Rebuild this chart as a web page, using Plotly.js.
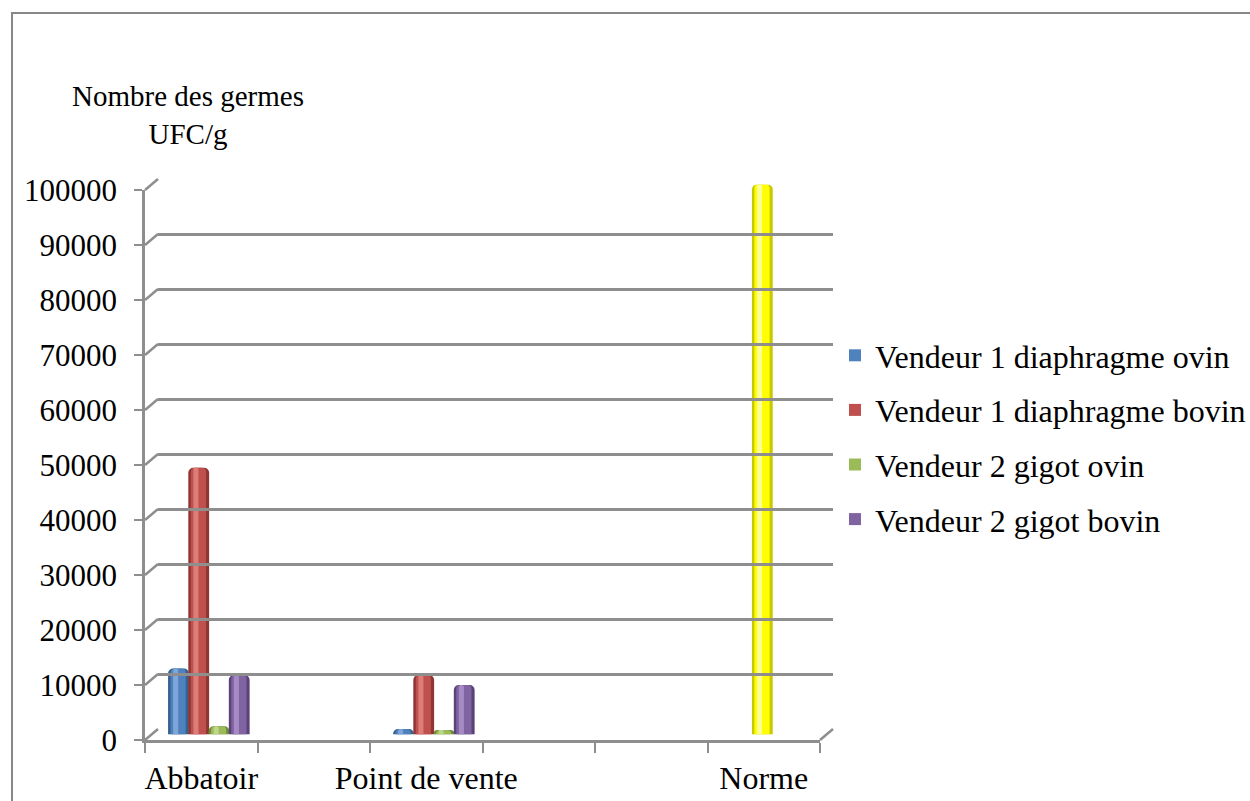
<!DOCTYPE html>
<html>
<head>
<meta charset="utf-8">
<script src="https://cdn.plot.ly/plotly-3.0.1.min.js"></script>
<style>
  html, body { margin: 0; padding: 0; background: #ffffff; }
  #chart { width: 1250px; height: 801px; }
</style>
</head>
<body>
<div id="chart"></div>
<script>
// ---------------- DATA ----------------
const categories = ['Abbatoir', 'Point de vente', 'Norme'];
const axisSlots = ['Abbatoir', ' ', 'Point de vente', '  ', '   ', 'Norme'];
const seriesNames = [
  'Vendeur 1 diaphragme ovin',
  'Vendeur 1 diaphragme bovin',
  'Vendeur 2 gigot ovin',
  'Vendeur 2 gigot bovin'
];
const vendeur1DiaphragmeOvin  = [12000, 1000, null];
const vendeur1DiaphragmeBovin = [48500, 10800, null];
const vendeur2GigotOvin       = [1500, 800, null];
const vendeur2GigotBovin      = [10800, 9000, null];
const normeValues             = [null, null, 100000];
const yTickValues = [0, 10000, 20000, 30000, 40000, 50000, 60000, 70000, 80000, 90000, 100000];

// ---------------- STYLE ----------------
const FONT = '"Liberation Serif", "Times New Roman", serif';
const GRID = '#8e8e8e';
const palettes = [
  { edge: '#35608f', main: '#4f81bd', light: '#7ea6d8' },
  { edge: '#8d3634', main: '#c0504d', light: '#dc7d7a' },
  { edge: '#6f8a3a', main: '#9bbb59', light: '#bdd68a' },
  { edge: '#5a4379', main: '#8064a2', light: '#a58ac4' }
];
const normePalette = { edge: '#c9c900', main: '#ffff00', light: '#ffff99' };
const seriesOffsets = [-0.295, -0.115, 0.065, 0.245];
const normeOffset = -0.105;
const BW = 0.185;

const seriesValues = [vendeur1DiaphragmeOvin, vendeur1DiaphragmeBovin, vendeur2GigotOvin, vendeur2GigotBovin];

const traces = [];
// register all category slots on the front axis
traces.push({
  type: 'scatter', x: axisSlots, y: axisSlots.map(() => 0),
  xaxis: 'x', yaxis: 'y', mode: 'markers', marker: { opacity: 0 },
  showlegend: false, hoverinfo: 'skip'
});
// back wall subplot (grid lines)
traces.push({
  type: 'scatter', x: [null], y: [null], xaxis: 'x3', yaxis: 'y3',
  mode: 'markers', showlegend: false, hoverinfo: 'skip'
});

function addCylinder(name, xs, ys, pal, off, legend, group) {
  const common = { type: 'bar', x: xs, y: ys, xaxis: 'x', yaxis: 'y2', hoverinfo: 'skip', legendgroup: group, showlegend: false };
  traces.push(Object.assign({}, common, {
    name: name, offset: off, width: BW,
    marker: { color: pal.edge, line: { width: 0 }, cornerradius: 5 }
  }));
  traces.push(Object.assign({}, common, {
    name: name, offset: off + 0.022, width: BW - 0.05,
    marker: { color: pal.main, line: { width: 0 }, cornerradius: 4 }
  }));
  traces.push(Object.assign({}, common, {
    name: name, offset: off + 0.045, width: 0.045,
    marker: { color: pal.light, line: { width: 0 }, cornerradius: 2 }
  }));
  if (legend) {
    // legend key only: same series, placed outside the visible x range (clipped)
    traces.push(Object.assign({}, common, {
      name: name, showlegend: true, offset: 40, width: BW,
      marker: { color: pal.main, line: { width: 0 } }
    }));
  }
}

seriesNames.forEach((n, i) => addCylinder(n, categories, seriesValues[i], palettes[i], seriesOffsets[i], true, 'g' + i));
addCylinder('Norme', categories, normeValues, normePalette, normeOffset, false, 'gn');

// ---------------- GEOMETRY ----------------
const PW = 688, PH = 561;           // plot area size in px
const frontX = [0, 675 / PW];
const frontY = [0, 550 / PH];
const barY   = [5.5 / PH, 555.5 / PH];
const backX  = [13 / PW, 1];
const backY  = [11 / PH, 1];
const yMax = 100000;

const shapes = [];
yTickValues.forEach(v => {
  shapes.push({
    type: 'line', xref: 'paper', yref: 'paper',
    x0: frontX[0], y0: frontY[0] + (frontY[1] - frontY[0]) * v / yMax,
    x1: backX[0],  y1: backY[0]  + (backY[1]  - backY[0])  * v / yMax,
    line: { color: GRID, width: 2.5 }
  });
});
// floor right edge
shapes.push({
  type: 'line', xref: 'paper', yref: 'paper',
  x0: frontX[1], y0: frontY[0], x1: backX[1], y1: backY[0],
  line: { color: GRID, width: 2.5 }
});
// outer chart frame
shapes.push({
  type: 'rect', xref: 'paper', yref: 'paper',
  x0: -133 / PW, x1: 1.8, y0: -0.3, y1: 727 / PH,
  line: { color: '#878787', width: 2 }, fillcolor: 'rgba(0,0,0,0)', layer: 'below'
});

const layout = {
  width: 1250, height: 801,
  margin: { l: 145, r: 417, t: 179, b: 61, pad: 0 },
  paper_bgcolor: '#ffffff', plot_bgcolor: 'rgba(0,0,0,0)',
  barmode: 'overlay',
  font: { family: FONT, color: '#000000', size: 31 },
  showlegend: true,
  legend: {
    xref: 'container', yref: 'container',
    x: 835 / 1250, xanchor: 'left', y: (801 - 328) / 801, yanchor: 'top',
    font: { family: FONT, size: 32, color: '#000000' },
    traceorder: 'grouped', tracegroupgap: 10,
    bgcolor: 'rgba(0,0,0,0)', borderwidth: 0
  },
  xaxis: {
    domain: frontX, anchor: 'y', type: 'category',
    categoryorder: 'array', categoryarray: axisSlots, range: [-0.5, 5.5],
    tickson: 'boundaries', ticks: 'outside', ticklen: 10, tickwidth: 2, tickcolor: GRID,
    showline: true, linecolor: GRID, linewidth: 2.5, showgrid: false, zeroline: false,
    tickfont: { family: FONT, size: 32, color: '#000000' }, tickangle: 0,
    ticklabelstandoff: 8, fixedrange: true
  },
  yaxis: {
    domain: frontY, anchor: 'x', range: [0, yMax],
    tickmode: 'array', tickvals: yTickValues, ticktext: yTickValues.map(String),
    ticks: 'outside', ticklen: 8, tickwidth: 2, tickcolor: GRID,
    showline: true, linecolor: GRID, linewidth: 2.5, showgrid: false, zeroline: false,
    tickfont: { family: FONT, size: 31, color: '#000000' },
    ticklabelstandoff: 11, fixedrange: true
  },
  yaxis2: { domain: barY, anchor: 'x', range: [0, yMax], visible: false, fixedrange: true },
  xaxis3: { domain: backX, anchor: 'y3', range: [0, 1], visible: false, fixedrange: true },
  yaxis3: {
    domain: backY, anchor: 'x3', range: [0, yMax],
    tickmode: 'array', tickvals: yTickValues,
    showgrid: true, gridcolor: GRID, gridwidth: 2.5,
    showticklabels: false, ticks: '', showline: false, zeroline: false, fixedrange: true
  },
  shapes: shapes,
  annotations: [{
    xref: 'paper', yref: 'paper', x: 43 / PW, y: (740 - 115.5) / PH,
    xanchor: 'center', yanchor: 'middle', showarrow: false, align: 'center',
    text: 'Nombre des germes<br>UFC/g',
    font: { family: FONT, size: 29, color: '#000000' }
  }]
};

Plotly.newPlot('chart', traces, layout, { displayModeBar: false, responsive: false });
</script>
</body>
</html>
